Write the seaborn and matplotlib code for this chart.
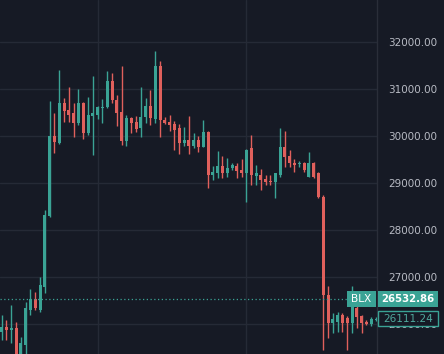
import matplotlib
matplotlib.use("Agg")
import matplotlib.pyplot as plt
import matplotlib.transforms as mtransforms
from matplotlib.patches import Rectangle
import seaborn as sns
import numpy as np
import pandas as pd

# ---- data ----
opens = [25837, 25943, 25880, 25908, 25300, 25560, 26298, 26525, 26298, 26794,
         28298, 30000, 29858, 30709, 30553, 30482, 30269, 30709, 30057, 30426,
         30447, 30589, 30610, 31170, 30766, 30518, 29901, 30376, 30305, 30163,
         30411, 30638, 30355, 31489, 30340, 30305, 30255, 30163, 29858, 29915,
         29787, 29915, 29773, 30092, 29170, 29205, 29362, 29205, 29312, 29369,
         29276, 29205, 29737, 29156, 29170, 29085, 29042, 29028, 29170, 29773,
         29581, 29432, 29404, 29432, 29135, 29432, 29205, 28709, 26617, 26014,
         26050, 26191, 26120, 26028, 26333, 26170, 26050, 26000, 26090]
highs = [26191, 26085, 26404, 26050, 25730, 26475, 26737, 26681, 27007, 28425,
         30745, 30482, 31405, 30801, 31050, 30695, 30993, 30720, 30823, 31277,
         30638, 30787, 31390, 31333, 30872, 31489, 30447, 30411, 30426, 31050,
         30801, 30979, 31816, 31596, 30411, 30447, 30326, 30255, 30198, 30426,
         30057, 30000, 30340, 30113, 29362, 29688, 29574, 29525, 29418, 29432,
         29503, 29716, 30021, 29383, 29291, 29170, 29170, 29220, 30163, 30113,
         29702, 29503, 29468, 29454, 29667, 29454, 29241, 28744, 26808, 26227,
         26262, 26227, 26170, 26808, 26383, 26191, 26085, 26156, 26150]
lows = [25659, 25659, 25588, 25250, 25250, 25300, 26191, 26298, 26262, 26667,
        28269, 29645, 29830, 30305, 30305, 29972, 30234, 29929, 30021, 29596,
        30355, 30269, 30589, 30695, 30213, 29808, 29787, 30071, 30092, 29986,
        30269, 30234, 30284, 29972, 30255, 30113, 29702, 29617, 29787, 29617,
        29752, 29667, 29759, 28886, 29064, 29099, 29099, 29135, 29276, 29099,
        29135, 28603, 28957, 28957, 28851, 28957, 28957, 28673, 29135, 29347,
        29347, 29241, 29347, 29241, 29135, 29099, 28673, 25447, 25695, 25801,
        25837, 25837, 25447, 25801, 25908, 25801, 25980, 25957, 26070]
closes = [25943, 25872, 25908, 25320, 25588, 26333, 26525, 26333, 26830, 28319,
          30000, 29879, 30695, 30532, 30447, 30269, 30709, 30071, 30447, 30482,
          30610, 30624, 31170, 30766, 30482, 29901, 30376, 30284, 30142, 30411,
          30638, 30376, 31489, 30340, 30284, 30234, 30127, 29844, 29915, 29787,
          29915, 29773, 30092, 29170, 29241, 29362, 29205, 29312, 29383, 29262,
          29205, 29702, 29170, 29205, 29064, 29028, 29014, 29205, 29773, 29560,
          29418, 29383, 29432, 29276, 29418, 29135, 28695, 26617, 26028, 26099,
          26191, 26028, 26028, 26511, 26156, 26028, 26000, 26099, 26111.24]
tick_prices = [26000, 27000, 28000, 29000, 30000, 31000, 32000]
symbol = "BLX"
mark_price = 26532.86
last_price = 26111.24

df = pd.DataFrame({"open": opens, "high": highs, "low": lows, "close": closes})
df["i"] = np.arange(len(df))
df["up"] = df["close"] >= df["open"]

BG = "#161a25"
GRID = "#252a36"
UP = "#3aa395"
DOWN = "#e0605c"
TXT = "#b8bbc4"

sns.set_theme(style="dark", rc={"axes.facecolor": BG, "figure.facecolor": BG})
plt.rcParams["font.family"] = ["DejaVu Sans"]

W, H = 444, 354
fig = plt.figure(figsize=(W / 100, H / 100), dpi=100)
plot_w = 377
ax = fig.add_axes([0, 0, plot_w / W, 1])
ax.set_facecolor(BG)

colors = np.where(df["up"], UP, DOWN)
ax.vlines(df["i"], df["low"], df["high"], colors=colors, linewidth=1.0, zorder=3)
body_bottom = np.minimum(df["open"], df["close"])
body_h = np.maximum(np.abs(df["close"] - df["open"]), 22)
ax.bar(df["i"], body_h, bottom=body_bottom, width=0.64, color=colors,
       linewidth=0, zorder=4)

# scales
ax.set_xlim(-0.354, 78.2)
ax.set_ylim(25361.7, 32893.6)

# grid
for p in tick_prices:
    ax.axhline(p, color=GRID, linewidth=1.0, zorder=1)
for xv in [20, 51]:
    ax.axvline(xv, color=GRID, linewidth=1.0, zorder=1)

ax.yaxis.tick_right()
ax.set_yticks(tick_prices)
ax.set_yticklabels([f"{p:.2f}" for p in tick_prices], color=TXT, fontsize=7.5)
ax.tick_params(axis="y", length=0, pad=8)
ax.set_xticks([])
ax.grid(False)
for s in ["top", "left", "bottom"]:
    ax.spines[s].set_visible(False)
ax.spines["right"].set_color("#2a2e39")
ax.spines["right"].set_linewidth(1.0)

# dotted price line
ax.axhline(mark_price, xmax=346.7 / plot_w, color=UP, linestyle=(0, (1, 2)),
           linewidth=0.9, zorder=5)

trans = mtransforms.blended_transform_factory(ax.transAxes, ax.transData)
px_per_price = 0.047
h1 = 16 / px_per_price
# BLX box
ax.add_patch(Rectangle((346.7 / plot_w, mark_price - h1 / 2), (376 - 346.7) / plot_w, h1,
                       transform=trans, facecolor=UP, edgecolor="none",
                       clip_on=False, zorder=10))
ax.text((346.7 + 376) / 2 / plot_w, mark_price, symbol, transform=trans,
        ha="center", va="center", color="white", fontsize=7.6, clip_on=False, zorder=11)
# price box
ax.add_patch(Rectangle((377.5 / plot_w, mark_price - h1 / 2), (438.3 - 377.5) / plot_w, h1,
                       transform=trans, facecolor=UP, edgecolor="none",
                       clip_on=False, zorder=10))
ax.text((377.5 + 438.3) / 2 / plot_w, mark_price, f"{mark_price:.2f}", transform=trans,
        ha="center", va="center", color="white", fontsize=7.3, fontweight="bold",
        clip_on=False, zorder=11)
# last price box (outlined)
h2 = 15 / px_per_price
ax.add_patch(Rectangle((377.8 / plot_w, last_price - h2 / 2), (438 - 377.8) / plot_w, h2,
                       transform=trans, facecolor=BG, edgecolor=UP, linewidth=1.0,
                       clip_on=False, zorder=10))
ax.text((377.8 + 438) / 2 / plot_w, last_price, f"{last_price:.2f}", transform=trans,
        ha="center", va="center", color="#4fa89c", fontsize=7.6,
        clip_on=False, zorder=11)

fig.savefig("out.png", dpi=100, facecolor=BG)
